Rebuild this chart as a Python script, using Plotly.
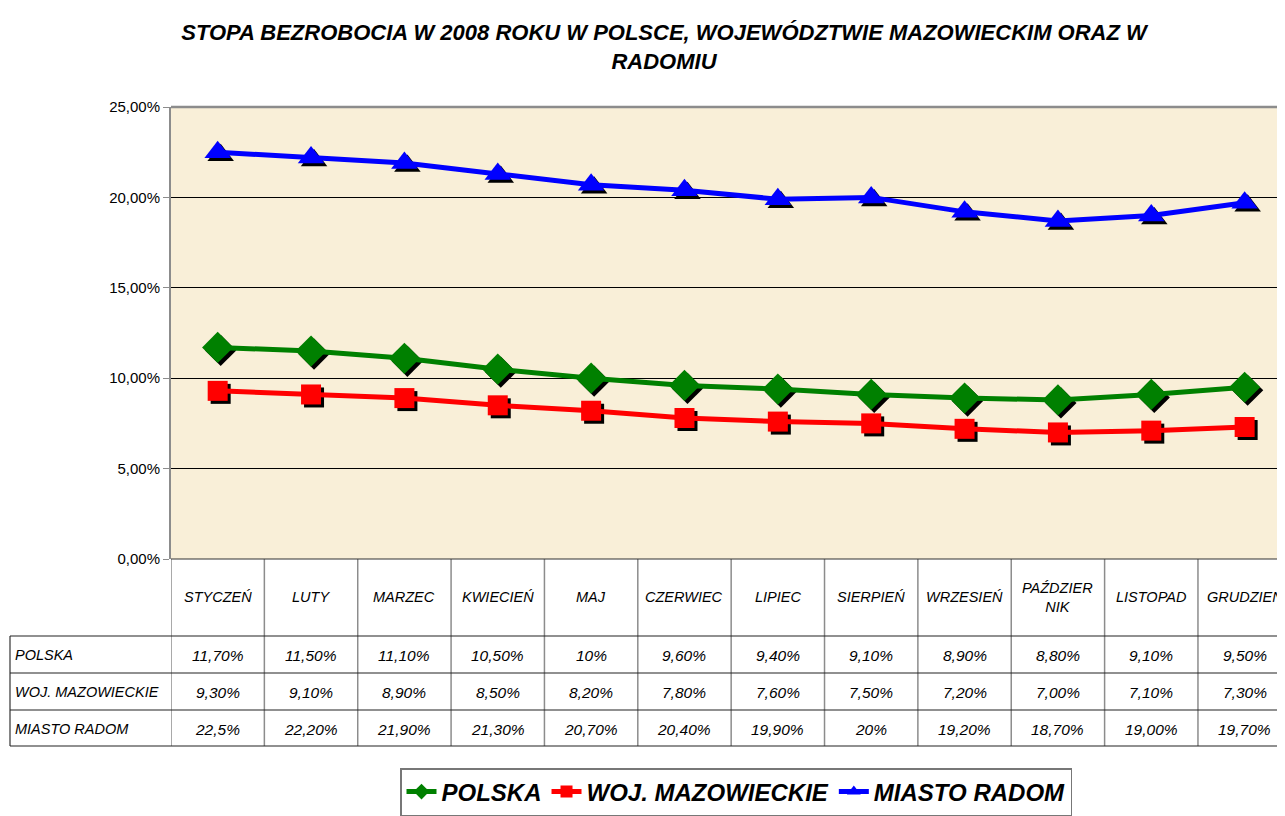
import plotly.graph_objects as go

MONTHS = ["STYCZEŃ", "LUTY", "MARZEC", "KWIECIEŃ", "MAJ", "CZERWIEC", "LIPIEC",
          "SIERPIEŃ", "WRZESIEŃ", "PAŹDZIER<br>NIK", "LISTOPAD", "GRUDZIEŃ"]

POLSKA = [11.7, 11.5, 11.1, 10.5, 10.0, 9.6, 9.4, 9.1, 8.9, 8.8, 9.1, 9.5]
MAZOWIECKIE = [9.3, 9.1, 8.9, 8.5, 8.2, 7.8, 7.6, 7.5, 7.2, 7.0, 7.1, 7.3]
RADOM = [22.5, 22.2, 21.9, 21.3, 20.7, 20.4, 19.9, 20.0, 19.2, 18.7, 19.0, 19.7]

# table text as printed in the source sheet
POLSKA_TXT = ["11,70%", "11,50%", "11,10%", "10,50%", "10%", "9,60%", "9,40%",
              "9,10%", "8,90%", "8,80%", "9,10%", "9,50%"]
MAZOWIECKIE_TXT = ["9,30%", "9,10%", "8,90%", "8,50%", "8,20%", "7,80%", "7,60%",
                   "7,50%", "7,20%", "7,00%", "7,10%", "7,30%"]
RADOM_TXT = ["22,5%", "22,20%", "21,90%", "21,30%", "20,70%", "20,40%", "19,90%",
             "20%", "19,20%", "18,70%", "19,00%", "19,70%"]

SERIES = [
    ("POLSKA", POLSKA, POLSKA_TXT, "#008000", "diamond", 24),
    ("WOJ. MAZOWIECKIE", MAZOWIECKIE, MAZOWIECKIE_TXT, "#ff0000", "square", 20),
    ("MIASTO RADOM", RADOM, RADOM_TXT, "#0000ff", "triangle-up", 23),
]

FONT = "Liberation Sans Narrow, Arial Narrow, Liberation Sans, Arial, sans-serif"
GREY = "#8c8c8c"

# the page body adds an 8px margin, so the figure is 8px smaller
OFF = 8
W, H = 1285 - OFF, 816 - OFF
# plot area in window pixels
L, T, BOT = 171, 107, 559
PW, PH = 1285 - L, BOT - T
COL = 93.36
X_RANGE = [-0.5, -0.5 + PW / COL]
Y_RANGE = [0, 25]
SH_X = 3 / COL
SH_Y = 3 * 25 / PH

xs = list(range(len(MONTHS)))
fig = go.Figure()

# drop shadows on the base axes (range shifted by a few pixels)
for name, vals, _, color, sym, size in SERIES:
    fig.add_trace(go.Scatter(
        x=xs, y=vals, mode="markers", xaxis="x", yaxis="y", showlegend=False,
        hoverinfo="skip", marker=dict(symbol=sym, size=size, color="black"),
    ))

for name, vals, _, color, sym, size in SERIES:
    fig.add_trace(go.Scatter(
        x=xs, y=vals, name=name, mode="lines+markers", xaxis="x2", yaxis="y2",
        line=dict(color=color, width=5),
        marker=dict(symbol=sym, size=size, color=color),
    ))


def py(y_win):
    return (BOT - y_win) / PH


def px(x_win):
    return (x_win - L) / PW


shapes = []
# vertical grid of the data table
for i in range(len(MONTHS) + 1):
    shapes.append(dict(type="line", xref="x2", yref="paper", x0=i - 0.5, x1=i - 0.5,
                       y0=0, y1=py(746), line=dict(color=GREY, width=1.5)))
shapes.append(dict(type="line", xref="paper", yref="paper", x0=px(10), x1=px(10),
                   y0=py(636), y1=py(746), line=dict(color="#333333", width=1.2)))
for yy in (636, 673, 710, 746):
    shapes.append(dict(type="line", xref="paper", yref="paper", x0=px(10), x1=1,
                       y0=py(yy), y1=py(yy), line=dict(color="#222222", width=1.2)))
shapes.append(dict(type="line", xref="paper", yref="paper", x0=0, x1=1,
                   y0=0, y1=0, line=dict(color="#333333", width=1.2)))
shapes.append(dict(type="line", xref="paper", yref="paper", x0=0, x1=1,
                   y0=1, y1=1, line=dict(color=GREY, width=2.5)))

annotations = []
head_font = dict(family=FONT, size=14.5, color="black", style="italic")
cell_font = dict(family=FONT, size=15.5, color="black", style="italic")
label_font = dict(family=FONT, size=14.5, color="black", style="italic")
for i, m in enumerate(MONTHS):
    annotations.append(dict(x=i, y=py(597), xref="x2", yref="paper", text=m,
                            showarrow=False, font=head_font, yanchor="middle"))
for r, (name, _, txt, *_rest) in enumerate(SERIES):
    yc = py(655 + 37 * r)
    annotations.append(dict(x=px(13), y=yc, xref="paper", yref="paper", text=name,
                            showarrow=False, xanchor="left", yanchor="middle",
                            font=label_font))
    for i, t in enumerate(txt):
        annotations.append(dict(x=i, y=yc, xref="x2", yref="paper", text=t,
                                showarrow=False, yanchor="middle", font=cell_font))

fig.update_layout(
    width=W, height=H,
    margin=dict(l=L - OFF, r=0, t=T - OFF, b=816 - BOT, autoexpand=False),
    paper_bgcolor="white",
    plot_bgcolor="#f9efd8",
    separators=", ",
    font=dict(family=FONT, color="black"),
    title=dict(
        text="STOPA BEZROBOCIA W 2008 ROKU W POLSCE, WOJEWÓDZTWIE MAZOWIECKIM ORAZ W<br>RADOMIU",
        x=(664 - OFF) / W, xanchor="center", xref="container",
        y=1 - (40 - OFF) / H, yanchor="middle", yref="container",
        font=dict(family=FONT, size=22, color="black", weight="bold", style="italic"),
    ),
    xaxis=dict(range=[X_RANGE[0] - SH_X, X_RANGE[1] - SH_X], visible=False, fixedrange=True),
    yaxis=dict(range=[Y_RANGE[0] + SH_Y, Y_RANGE[1] + SH_Y], visible=False, fixedrange=True),
    xaxis2=dict(range=X_RANGE, overlaying="x", visible=False),
    yaxis2=dict(
        range=Y_RANGE, overlaying="y", side="left", dtick=5,
        tickformat=".2f", ticksuffix="%", ticks="outside", ticklen=6,
        tickcolor=GREY, showline=True, linecolor=GREY, linewidth=2,
        showgrid=True, gridcolor="black", gridwidth=1, zeroline=False,
        tickfont=dict(family=FONT, size=15, color="black"),
    ),
    legend=dict(
        orientation="h", x=px(400), xanchor="left", y=py(768), yanchor="top",
        bordercolor="#777777", borderwidth=1.5, bgcolor="white",
        font=dict(family=FONT, size=24, color="black", weight="bold", style="italic"),
        itemsizing="constant",
    ),
    shapes=shapes,
    annotations=annotations,
    showlegend=True,
)

fig.write_html("out.html")
